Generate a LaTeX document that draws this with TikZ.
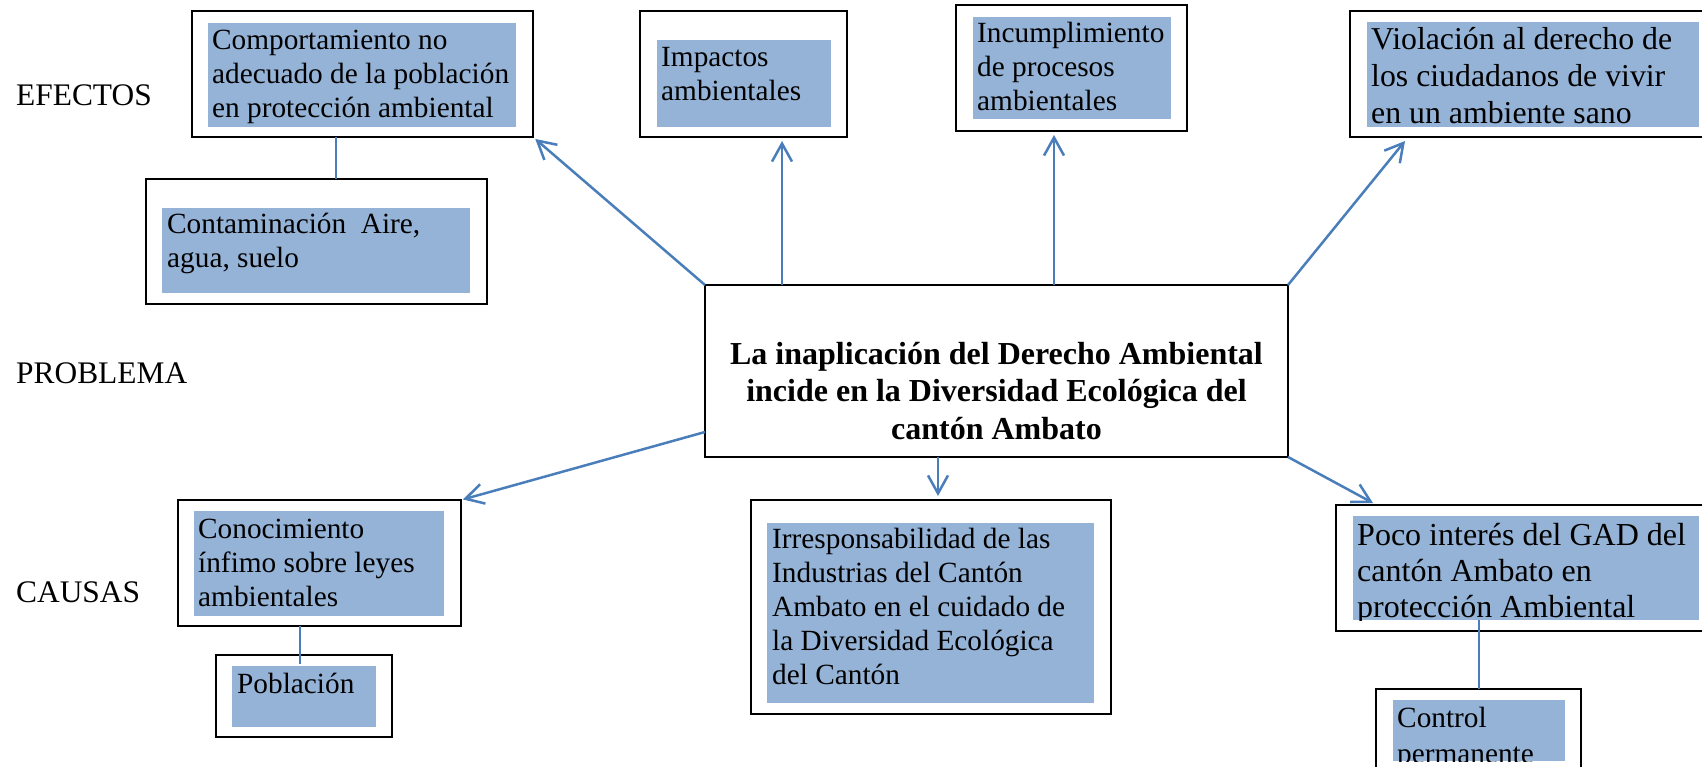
\documentclass[tikz,border=0pt]{standalone}
\usepackage{fontspec}
\setmainfont{Liberation Serif}
\usetikzlibrary{arrows.meta}
\definecolor{arrowblue}{HTML}{4A7EBB}
\definecolor{fillblue}{HTML}{95B3D7}
\begin{document}
\begin{tikzpicture}[x=1pt,y=-1pt,
  outerbox/.style={draw=black,line width=2.2pt,anchor=north west,inner sep=0pt,outer sep=0pt},
  bluebox/.style={fill=fillblue,anchor=north west,inner sep=0pt,outer sep=0pt},
  txt/.style={anchor=base west,inner sep=0pt,font=\fontsize{29.3}{34}\selectfont},
  bigtxt/.style={anchor=base west,inner sep=0pt,font=\fontsize{31.8}{37}\selectfont},
  sidelabel/.style={anchor=base west,inner sep=0pt,font=\fontsize{31.4}{37}\selectfont},
  arr/.style={draw=arrowblue,line width=2.5pt,-{Straight Barb[length=18pt,width=20pt]}},
  link/.style={draw=arrowblue,line width=2pt}]
\useasboundingbox (0,0) rectangle (1702,767);

% side labels
\node[sidelabel] (efectos) at (16,106) {EFECTOS};
\node[sidelabel] (problema) at (16,383) {PROBLEMA};
\node[sidelabel] (causas) at (16,602) {CAUSAS};

% Comportamiento
\node[outerbox,minimum width=341pt,minimum height=126pt] (b1) at (192,11) {};
\node[bluebox,minimum width=308pt,minimum height=104pt] (f1) at (208,23) {};
\node[txt] (t1) at (212,50) {\parbox[t]{320pt}{Comportamiento no\\adecuado de la población\\en protección ambiental}};

% Contaminacion
\node[outerbox,minimum width=341pt,minimum height=125pt] (b5) at (146,179) {};
\node[bluebox,minimum width=308pt,minimum height=85pt] (f5) at (162,208) {};
\node[txt] (t5) at (167,234) {\parbox[t]{320pt}{Contaminación\ \ Aire,\\agua, suelo}};

% Impactos
\node[outerbox,minimum width=207pt,minimum height=126pt] (b2) at (640,11) {};
\node[bluebox,minimum width=174pt,minimum height=87pt] (f2) at (657,40) {};
\node[txt] (t2) at (661,67) {\parbox[t]{200pt}{Impactos\\ambientales}};

% Incumplimiento
\node[outerbox,minimum width=231pt,minimum height=126pt] (b3) at (956,5) {};
\node[bluebox,minimum width=198pt,minimum height=102pt] (f3) at (973,17) {};
\node[txt] (t3) at (977,43) {\parbox[t]{220pt}{Incumplimiento\\de procesos\\ambientales}};

% Violacion
\node[outerbox,minimum width=370pt,minimum height=126pt] (b4) at (1350,11) {};
\node[bluebox,minimum width=332pt,minimum height=105pt] (f4) at (1367,22) {};
\begin{scope}
  \clip (f4.north west) rectangle (f4.south east);
  \node[bigtxt] (t4) at (1371,50) {\parbox[t]{340pt}{Violación al derecho de\\los ciudadanos de vivir\\en un ambiente sano}};
\end{scope}

% Central problem
\node[outerbox,minimum width=583pt,minimum height=172pt] (c) at (705,285) {};
\node[anchor=base,inner sep=0pt,font=\fontsize{32}{37.5}\selectfont\bfseries] (ct) at (996.5,364)
  {\parbox[t]{570pt}{\centering La inaplicación del Derecho Ambiental\\incide en la Diversidad Ecológica del\\cantón Ambato}};

% Conocimiento
\node[outerbox,minimum width=283pt,minimum height=126pt] (b6) at (178,500) {};
\node[bluebox,minimum width=250pt,minimum height=105pt] (f6) at (194,511) {};
\node[txt] (t6) at (198,538) {\parbox[t]{260pt}{Conocimiento\\ínfimo sobre leyes\\ambientales}};

% Poblacion
\node[outerbox,minimum width=176pt,minimum height=82pt] (b7) at (216,655) {};
\node[bluebox,minimum width=144pt,minimum height=61pt] (f7) at (232,666) {};
\node[txt] (t7) at (237,693) {Población};

% Irresponsabilidad
\node[outerbox,minimum width=360pt,minimum height=214pt] (b8) at (751,500) {};
\node[bluebox,minimum width=327pt,minimum height=180pt] (f8) at (767,523) {};
\node[txt] (t8) at (772,548) {\parbox[t]{330pt}{Irresponsabilidad de las\\Industrias del Cantón\\Ambato en el cuidado de\\la Diversidad Ecológica\\del Cantón}};

% Poco interes
\node[outerbox,minimum width=380pt,minimum height=126pt] (b9) at (1336,505) {};
\node[bluebox,minimum width=346pt,minimum height=104pt] (f9) at (1353,516) {};
\begin{scope}
  \clip (f9.north west) rectangle (f9.south east);
  \node[anchor=base west,inner sep=0pt,font=\fontsize{32}{36}\selectfont] (t9) at (1357,545) {\parbox[t]{350pt}{Poco interés del GAD del\\cantón Ambato en\\protección Ambiental}};
\end{scope}

% Control permanente
\node[outerbox,minimum width=205pt,minimum height=100pt] (b10) at (1376,689) {};
\node[bluebox,minimum width=172pt,minimum height=61pt] (f10) at (1393,700) {};
\begin{scope}
  \clip (f10.north west) rectangle (f10.south east);
  \node[anchor=base west,inner sep=0pt,font=\fontsize{29.3}{36}\selectfont] (t10) at (1397,727) {\parbox[t]{200pt}{Control\\permanente}};
\end{scope}

% plain links
\coordinate (l1) at (336,137);
\draw[link] (l1) -- (l1 |- b5.north);
\coordinate (l6) at (300,626);
\draw[link] (l6) -- ([yshift=2pt]l6 |- f7.north);
\coordinate (l9) at (1479,620);
\draw[link] (l9) -- (l9 |- b10.north);

% arrows from the problem
\draw[arr,shorten >=3pt] (c.north west) -- (b1.south east);
\coordinate (c2) at (782,285);
\draw[arr,shorten >=4pt] (c2) -- (c2 |- b2.south);
\coordinate (c3) at (1054,285);
\draw[arr,shorten >=4pt] (c3) -- (c3 |- b3.south);
\coordinate (tip4) at (1405,141);
\draw[arr] (c.north east) -- (tip4);
\coordinate (cl) at (705,432);
\draw[arr,shorten >=2pt] (cl) -- (b6.north east);
\coordinate (cb) at (938,457);
\draw[arr,shorten >=4pt] (cb) -- (cb |- b8.north);
\coordinate (tip9) at (1373,503);
\draw[arr] (c.south east) -- (tip9);
\end{tikzpicture}
\end{document}
